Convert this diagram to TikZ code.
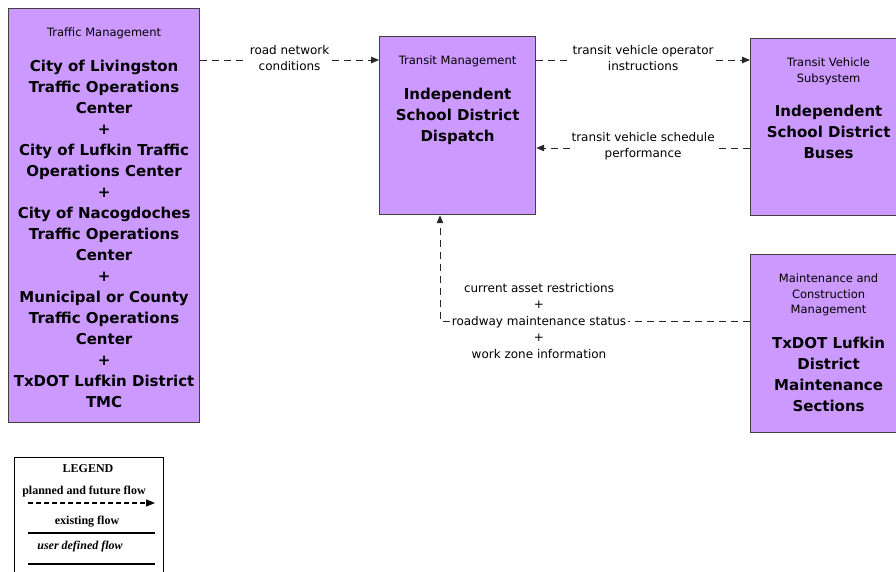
\documentclass[tikz,border=0pt]{standalone}
\usepackage{fontspec}
\setmainfont{DejaVu Sans}
\newfontfamily\legendfont{Liberation Serif}
\usetikzlibrary{arrows.meta, positioning}
\definecolor{boxpurple}{RGB}{204,153,255}
\definecolor{edgegray}{RGB}{64,64,64}
\definecolor{flowgray}{RGB}{40,40,40}

\begin{document}
\begin{tikzpicture}[
  x=1pt, y=1pt,
  node distance=20pt,
  box/.style={draw=edgegray, fill=boxpurple, line width=1.2pt, minimum width=156pt, minimum height=178pt, anchor=north west},
  cat/.style={align=center, font=\fontsize{11.5}{15.5}\selectfont, inner sep=0pt},
  ent/.style={align=center, font=\fontsize{15}{21}\selectfont\bfseries, inner sep=0pt},
  lbl/.style={align=center, font=\fontsize{12}{16.5}\selectfont, fill=white, inner sep=2pt},
  flow/.style={draw=flowgray, line width=1pt, dash pattern=on 7pt off 5pt},
  arr/.style={flow, -{Triangle[length=8pt, width=6.5pt]}},
  leg/.style={font=\legendfont\fontsize{12}{14}\selectfont\bfseries, inner sep=0pt}
]
  \useasboundingbox (0,0) rectangle (896,-571);

  \node[box, minimum width=191pt, minimum height=414pt] (tm) at (8,-8) {};
  \node[cat, below=of tm.north] (tm-cat) {Traffic Management};
  \node[ent, below=of tm-cat] (tm-ent) {City of Livingston\\Traffic Operations\\Center\\+\\City of Lufkin Traffic\\Operations Center\\+\\City of Nacogdoches\\Traffic Operations\\Center\\+\\Municipal or County\\Traffic Operations\\Center\\+\\TxDOT Lufkin District\\TMC};

  \node[box] (isd) at (379,-36) {};
  \node[cat, below=of isd.north] (isd-cat) {Transit Management};
  \node[ent, below=of isd-cat] (isd-ent) {Independent\\School District\\Dispatch};

  \node[box, minimum height=177pt] (tvs) at (750,-38) {};
  \node[cat, below=of tvs.north] (tvs-cat) {Transit Vehicle\\Subsystem};
  \node[ent, below=of tvs-cat] (tvs-ent) {Independent\\School District\\Buses};

  \node[box] (mcm) at (750,-254) {};
  \node[cat, below=of mcm.north] (mcm-cat) {Maintenance and\\Construction\\Management};
  \node[ent, below=of mcm-cat] (mcm-ent) {TxDOT Lufkin\\District\\Maintenance\\Sections};

  \coordinate (y-cmd) at (0,-60);
  \coordinate (y-sched) at (0,-148);
  \coordinate (corner) at (440,-321);

  \draw[arr] (tm.east |- y-cmd) -- node[lbl, yshift=2pt] {road network\\conditions} (isd.west |- y-cmd);
  \draw[arr] (isd.east |- y-cmd) -- node[lbl, yshift=2pt] {transit vehicle operator\\instructions} (tvs.west |- y-cmd);
  \draw[arr] (tvs.west |- y-sched) -- node[lbl, yshift=2pt] {transit vehicle schedule\\performance} (isd.east |- y-sched);

  \node[lbl] (mnt-lbl) at (539,-321) {current asset restrictions\\+\\roadway maintenance status\\+\\work zone information};
  \draw[flow] (mcm.west |- mnt-lbl) -- (mnt-lbl.east);
  \draw[arr] (mnt-lbl.west) -- (corner) -- (corner |- isd.south);

  \node[draw=black, line width=0.8pt, minimum width=149pt, minimum height=130pt, anchor=north west] (legend) at (14,-457) {};
  \node[leg] (leg-title) at (88,-469) {LEGEND};
  \node[leg] (leg-planned) at (84,-492) {planned and future flow};
  \node[leg] (leg-existing) at (87,-522) {existing flow};
  \node[leg, font=\legendfont\fontsize{12}{14}\selectfont\bfseries\itshape] (leg-user) at (80,-547) {user defined flow};
  \draw[line width=1.2pt, dash pattern=on 5pt off 3pt, -{Triangle[length=9pt, width=7pt]}] (28,-503) -- (155,-503);
  \draw[line width=1.2pt] (28,-533) -- (155,-533);
  \draw[line width=1.2pt] (28,-564) -- (155,-564);
\end{tikzpicture}
\end{document}
